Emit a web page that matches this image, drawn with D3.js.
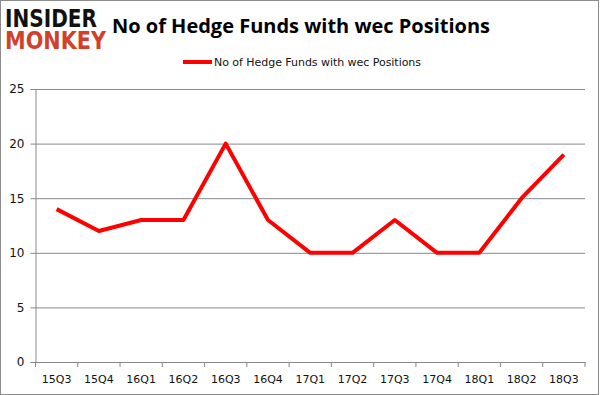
<!DOCTYPE html>
<html>
<head>
<meta charset="UTF-8">
<title>No of Hedge Funds with wec Positions</title>
<script src="https://cdn.jsdelivr.net/npm/d3@7"></script>
<style>
  body { margin: 0; background: #fff; }
  svg { display: block; }
</style>
</head>
<body>
<script>
  const quarters = ['15Q3', '15Q4', '16Q1', '16Q2', '16Q3', '16Q4', '17Q1', '17Q2', '17Q3', '17Q4', '18Q1', '18Q2', '18Q3'];
  const positions = [14, 12, 13, 13, 20, 13, 10, 10, 13, 10, 10, 15, 19];
  const yTicks = [0, 5, 10, 15, 20, 25];
  const seriesName = 'No of Hedge Funds with wec Positions';

  const width = 601, height = 395;
  const margin = {top: 89, right: 16, bottom: 33, left: 35.5};

  const svg = d3.select('body').append('svg').attr('width', width).attr('height', height);

  // outer frame
  svg.append('rect')
    .attr('x', 0.5).attr('y', 0.5).attr('width', width - 3).attr('height', height - 1)
    .attr('fill', '#fff').attr('stroke', '#8c8c8c');

  const x = d3.scaleBand().domain(quarters).range([margin.left, width - margin.right]);
  const y = d3.scaleLinear().domain([0, 25]).range([height - margin.bottom, margin.top]);

  // grid + y axis
  svg.append('g')
    .attr('transform', `translate(${margin.left},0)`)
    .call(d3.axisLeft(y).tickValues(yTicks).tickSize(5).tickPadding(6))
    .call(g => g.select('.domain').attr('stroke', '#888'))
    .call(g => g.selectAll('.tick line').clone()
      .attr('x1', 0).attr('x2', width - margin.right - margin.left).attr('stroke', '#888'))
    .call(g => g.selectAll('.tick line').attr('stroke', '#888'))
    .call(g => g.selectAll('text').attr('fill', '#111').style('font', '12px "DejaVu Sans", sans-serif'));

  // x axis
  svg.append('g')
    .attr('transform', `translate(0,${height - margin.bottom})`)
    .call(d3.axisBottom(x).tickSize(0).tickPadding(13))
    .call(g => g.select('.domain').attr('stroke', '#888'))
    .call(g => g.selectAll('text').attr('fill', '#111').style('font', '11px "DejaVu Sans", sans-serif'))
    .call(g => g.selectAll('.sep').data(quarters.concat(['end'])).join('line')
      .attr('x1', (d, i) => margin.left + i * x.step()).attr('x2', (d, i) => margin.left + i * x.step())
      .attr('y1', 0).attr('y2', 5).attr('stroke', '#888'));

  // line
  const line = d3.line()
    .x((d, i) => x(quarters[i]) + x.bandwidth() / 2)
    .y(d => y(d));

  svg.append('path')
    .datum(positions)
    .attr('fill', 'none')
    .attr('stroke', '#ff0000')
    .attr('stroke-width', 4)
    .attr('stroke-linejoin', 'round')
    .attr('d', line);

  // title
  svg.append('text')
    .attr('x', 301).attr('y', 33)
    .attr('text-anchor', 'middle')
    .attr('font-family', '"Open Sans", sans-serif')
    .attr('font-weight', 'bold')
    .attr('font-size', 20)
    .attr('textLength', 378)
    .attr('fill', '#000')
    .text('No of Hedge Funds with wec Positions');

  // legend
  svg.append('line')
    .attr('x1', 183).attr('x2', 212).attr('y1', 62).attr('y2', 62)
    .attr('stroke', '#ff0000').attr('stroke-width', 4);
  svg.append('text')
    .attr('x', 214).attr('y', 66)
    .attr('font-family', '"DejaVu Sans", sans-serif')
    .attr('font-size', 11)
    .attr('textLength', 207)
    .attr('fill', '#111')
    .text(seriesName);

  // logo
  svg.append('text')
    .attr('x', 5).attr('y', 27)
    .attr('font-family', '"DejaVu Sans", sans-serif')
    .attr('font-weight', 'bold')
    .attr('font-size', 24)
    .attr('textLength', 92).attr('lengthAdjust', 'spacingAndGlyphs')
    .attr('fill', '#111')
    .text('INSIDER');
  svg.append('text')
    .attr('x', 5).attr('y', 49)
    .attr('font-family', '"DejaVu Sans", sans-serif')
    .attr('font-weight', 'bold')
    .attr('font-size', 24)
    .attr('textLength', 101).attr('lengthAdjust', 'spacingAndGlyphs')
    .attr('fill', '#d23f2a')
    .text('MONKEY');
</script>
</body>
</html>
